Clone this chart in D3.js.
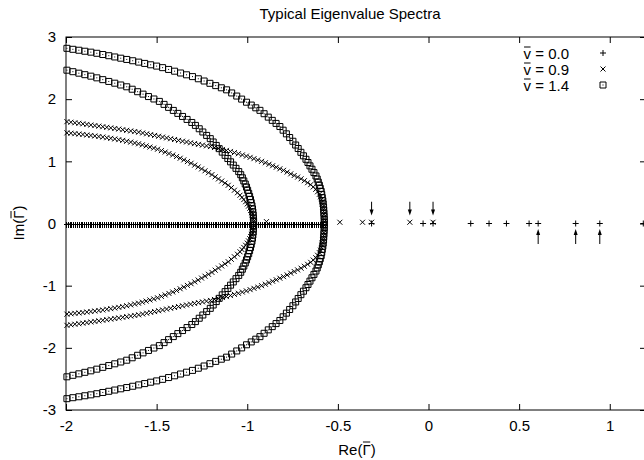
<!DOCTYPE html>
<html>
<head>
<meta charset="utf-8">
<script src="https://cdn.jsdelivr.net/npm/d3@7"></script>
<style>
    body { margin: 0; background: #fff; }
    text { font-family: "Liberation Sans", Arial, sans-serif; fill: #000; }
</style>
</head>
<body>
<svg id="chart" width="644" height="460"></svg>
<script>
(function() {
    'use strict';

    var xTicks = [-2, -1.5, -1, -0.5, 0, 0.5, 1];
    var xTickLabels = ['-2', '-1.5', '-1', '-0.5', '0', '0.5', '1'];
    var yTicks = [-3, -2, -1, 0, 1, 2, 3];
    var yTickLabels = ['-3', '-2', '-1', '0', '1', '2', '3'];
    var legendValues = ['0.0', '0.9', '1.4'];

    // v = 0.0 : continuous real spectrum (Re only)
    var v00Band = [
        -2.00, -1.99, -1.98, -1.97, -1.96, -1.95, -1.94, -1.93, -1.92, -1.91,
        -1.90, -1.89, -1.88, -1.87, -1.86, -1.85, -1.84, -1.83, -1.82, -1.81,
        -1.80, -1.79, -1.78, -1.77, -1.76, -1.75, -1.74, -1.73, -1.72, -1.71,
        -1.70, -1.69, -1.68, -1.67, -1.66, -1.65, -1.64, -1.63, -1.62, -1.61,
        -1.60, -1.59, -1.58, -1.57, -1.56, -1.55, -1.54, -1.53, -1.52, -1.51,
        -1.50, -1.49, -1.48, -1.47, -1.46, -1.45, -1.44, -1.43, -1.42, -1.41,
        -1.40, -1.39, -1.38, -1.37, -1.36, -1.35, -1.34, -1.33, -1.32, -1.31,
        -1.30, -1.29, -1.28, -1.27, -1.26, -1.25, -1.24, -1.23, -1.22, -1.21,
        -1.20, -1.19, -1.18, -1.17, -1.16, -1.15, -1.14, -1.13, -1.12, -1.11,
        -1.10, -1.09, -1.08, -1.07, -1.06, -1.05, -1.04, -1.03, -1.02, -1.01,
        -1.00, -0.99, -0.98, -0.97, -0.96, -0.95, -0.94, -0.93, -0.92, -0.91,
        -0.90, -0.89, -0.88, -0.87, -0.86, -0.85, -0.84, -0.83, -0.82, -0.81,
        -0.80, -0.79, -0.78, -0.77, -0.76, -0.75, -0.74, -0.73, -0.72, -0.71,
        -0.70, -0.69, -0.68, -0.67, -0.66, -0.65, -0.64, -0.63, -0.62, -0.61,
        -0.60, -0.59, -0.58
    ];
    // v = 0.0 : discrete real eigenvalues
    var v00Discrete = [-0.314, -0.03, 0.025, 0.233, 0.334, 0.43, 0.555, 0.605, 0.812, 0.945, 1.185];

    // v = 0.9 : discrete eigenvalues [Re, Im]
    var v09Discrete = [[-0.894, 0.03], [-0.489, 0.02], [-0.364, 0.02], [-0.314, 0.02], [-0.103, 0.02], [0.025, 0.02]];

    // v = 0.9 : upper halves of the two branches [Re, Im] (conjugates drawn too)
    var v09Outer = [
        [-1.995, 1.638], [-1.973, 1.629], [-1.951, 1.620], [-1.929, 1.612], [-1.907, 1.603], [-1.885, 1.594], [-1.863, 1.584], [-1.841, 1.575], [-1.819, 1.566], [-1.797, 1.557],
        [-1.775, 1.547], [-1.753, 1.538], [-1.731, 1.528], [-1.709, 1.519], [-1.687, 1.509], [-1.665, 1.499], [-1.643, 1.489], [-1.621, 1.479], [-1.599, 1.469], [-1.577, 1.456],
        [-1.555, 1.443], [-1.533, 1.430], [-1.511, 1.417], [-1.489, 1.403], [-1.467, 1.390], [-1.445, 1.377], [-1.423, 1.364], [-1.401, 1.351], [-1.379, 1.337], [-1.357, 1.324],
        [-1.335, 1.311], [-1.313, 1.298], [-1.291, 1.285], [-1.269, 1.273], [-1.247, 1.261], [-1.225, 1.249], [-1.203, 1.237], [-1.181, 1.222], [-1.159, 1.206], [-1.137, 1.191],
        [-1.115, 1.176], [-1.093, 1.159], [-1.071, 1.140], [-1.049, 1.122], [-1.027, 1.103], [-1.005, 1.084], [-0.984, 1.064], [-0.963, 1.043], [-0.942, 1.022], [-0.921, 1.000],
        [-0.900, 0.977], [-0.880, 0.953], [-0.860, 0.929], [-0.840, 0.905], [-0.820, 0.880], [-0.800, 0.855], [-0.780, 0.827], [-0.760, 0.799], [-0.741, 0.772], [-0.722, 0.746],
        [-0.703, 0.719], [-0.685, 0.688], [-0.667, 0.656], [-0.650, 0.625], [-0.636, 0.588], [-0.622, 0.550], [-0.612, 0.510], [-0.602, 0.470], [-0.596, 0.430], [-0.590, 0.390],
        [-0.587, 0.350], [-0.585, 0.310], [-0.582, 0.270], [-0.580, 0.230], [-0.579, 0.190], [-0.577, 0.150], [-0.576, 0.110], [-0.575, 0.070], [-0.575, 0.030]
    ];
    var v09Inner = [
        [-1.995, 1.458], [-1.973, 1.452], [-1.951, 1.445], [-1.929, 1.439], [-1.907, 1.432], [-1.885, 1.424], [-1.863, 1.416], [-1.841, 1.408], [-1.819, 1.399], [-1.797, 1.391],
        [-1.775, 1.380], [-1.753, 1.370], [-1.731, 1.360], [-1.709, 1.349], [-1.687, 1.337], [-1.665, 1.323], [-1.643, 1.309], [-1.621, 1.295], [-1.600, 1.282], [-1.579, 1.265],
        [-1.558, 1.248], [-1.537, 1.230], [-1.516, 1.213], [-1.495, 1.195], [-1.474, 1.172], [-1.453, 1.149], [-1.432, 1.125], [-1.411, 1.102], [-1.390, 1.077], [-1.370, 1.050],
        [-1.350, 1.023], [-1.330, 0.996], [-1.310, 0.969], [-1.290, 0.939], [-1.271, 0.909], [-1.252, 0.878], [-1.233, 0.848], [-1.214, 0.817], [-1.195, 0.786], [-1.177, 0.751],
        [-1.159, 0.717], [-1.141, 0.683], [-1.123, 0.649], [-1.105, 0.615], [-1.088, 0.576], [-1.071, 0.535], [-1.054, 0.494], [-1.040, 0.455], [-1.029, 0.420], [-1.019, 0.385],
        [-1.009, 0.350], [-1.000, 0.315], [-0.993, 0.280], [-0.986, 0.245], [-0.981, 0.210], [-0.976, 0.175], [-0.972, 0.140], [-0.969, 0.105], [-0.967, 0.070], [-0.965, 0.035]
    ];

    // v = 1.4 : upper halves of the two branches [Re, Im]
    var v14Outer = [
        [-1.995, 2.818], [-1.962, 2.802], [-1.929, 2.787], [-1.896, 2.771], [-1.863, 2.756], [-1.830, 2.738], [-1.797, 2.718], [-1.764, 2.699], [-1.731, 2.679], [-1.698, 2.659],
        [-1.665, 2.639], [-1.632, 2.618], [-1.599, 2.596], [-1.566, 2.575], [-1.533, 2.553], [-1.500, 2.532], [-1.467, 2.507], [-1.434, 2.478], [-1.401, 2.450], [-1.368, 2.421],
        [-1.335, 2.392], [-1.302, 2.363], [-1.270, 2.328], [-1.238, 2.292], [-1.206, 2.255], [-1.174, 2.218], [-1.143, 2.183], [-1.114, 2.150], [-1.086, 2.100], [-1.058, 2.050],
        [-1.031, 2.001], [-1.004, 1.951], [-0.978, 1.905], [-0.953, 1.861], [-0.930, 1.820], [-0.907, 1.766], [-0.884, 1.711], [-0.862, 1.659], [-0.841, 1.610], [-0.820, 1.560],
        [-0.802, 1.501], [-0.784, 1.442], [-0.766, 1.383], [-0.748, 1.323], [-0.733, 1.262], [-0.719, 1.206], [-0.704, 1.145], [-0.690, 1.089], [-0.676, 1.033], [-0.665, 0.981],
        [-0.654, 0.927], [-0.643, 0.873], [-0.632, 0.819], [-0.621, 0.765], [-0.614, 0.715], [-0.608, 0.665], [-0.602, 0.615], [-0.597, 0.565], [-0.592, 0.515], [-0.589, 0.465],
        [-0.586, 0.415], [-0.583, 0.365], [-0.581, 0.315], [-0.579, 0.265], [-0.578, 0.215], [-0.577, 0.165], [-0.576, 0.115], [-0.575, 0.065], [-0.575, 0.015]
    ];
    var v14Inner = [
        [-1.995, 2.466], [-1.962, 2.442], [-1.929, 2.418], [-1.896, 2.394], [-1.863, 2.370], [-1.830, 2.343], [-1.797, 2.314], [-1.764, 2.285], [-1.731, 2.257], [-1.698, 2.228],
        [-1.665, 2.199], [-1.635, 2.160], [-1.605, 2.120], [-1.575, 2.081], [-1.545, 2.042], [-1.515, 2.003], [-1.485, 1.964], [-1.459, 1.916], [-1.434, 1.868], [-1.408, 1.819],
        [-1.383, 1.771], [-1.357, 1.722], [-1.332, 1.674], [-1.306, 1.625], [-1.286, 1.578], [-1.265, 1.524], [-1.245, 1.472], [-1.224, 1.417], [-1.204, 1.365], [-1.188, 1.311],
        [-1.171, 1.256], [-1.155, 1.204], [-1.138, 1.148], [-1.122, 1.096], [-1.107, 1.045], [-1.092, 0.992], [-1.077, 0.940], [-1.062, 0.887], [-1.047, 0.835], [-1.036, 0.785],
        [-1.027, 0.735], [-1.019, 0.685], [-1.011, 0.635], [-1.004, 0.585], [-0.998, 0.535], [-0.992, 0.485], [-0.987, 0.435], [-0.982, 0.385], [-0.978, 0.335], [-0.974, 0.285],
        [-0.971, 0.235], [-0.969, 0.185], [-0.967, 0.135], [-0.966, 0.085], [-0.965, 0.035]
    ];

    // arrows marking eigenvalues: Re position, Im start, Im tip
    var arrowsDown = [-0.314, -0.103, 0.025];
    var arrowsDownSpan = [0.35, 0.13];
    var arrowsUp = [0.605, 0.812, 0.945];
    var arrowsUpSpan = [-0.33, -0.09];

    var svg = d3.select('#chart');
    var x = d3.scaleLinear().domain([-2, 1.2]).range([66, 646]);
    var y = d3.scaleLinear().domain([-3, 3]).range([410, 37]);
    var fontSize = 15;

    var symbols = {
        plus: 'M-3,0H3M0,-3V3',
        cross: 'M-2.5,-2.5L2.5,2.5M-2.5,2.5L2.5,-2.5',
        box: 'M-3,-3H3V3H-3ZM-0.5,0H0.5'
    };

    // eigenvalues come in complex conjugate pairs
    var withConjugates = function(pts) {
        return pts.concat(pts.map(function(p) { return [p[0], -p[1]]; }));
    };

    var drawPoints = function(cls, pts, symbol, crisp) {
        svg.append('g')
            .attr('class', cls)
            .attr('shape-rendering', crisp ? 'crispEdges' : null)
            .selectAll('path')
            .data(pts)
            .enter()
            .append('path')
            .attr('transform', function(d) {
                var px = x(d[0]), py = y(d[1]);
                if (crisp) { px = Math.round(px) + 0.5; py = Math.round(py) + 0.5; }
                return 'translate(' + px + ',' + py + ')';
            })
            .attr('d', symbols[symbol])
            .attr('fill', 'none')
            .attr('stroke', '#000')
            .attr('stroke-width', 1);
    };

    // axes with inward ticks on all four sides
    var tick = 6;
    var xAxis = d3.axisBottom(x).tickValues(xTicks).tickSize(-tick).tickPadding(10)
        .tickFormat(function(d, i) { return xTickLabels[i]; });
    var yAxis = d3.axisLeft(y).tickValues(yTicks).tickSize(-tick).tickPadding(10)
        .tickFormat(function(d, i) { return yTickLabels[i]; });

    svg.append('g').attr('transform', 'translate(0,410)').call(xAxis);
    svg.append('g').attr('transform', 'translate(0,37)')
        .call(d3.axisTop(x).tickValues(xTicks).tickSize(-tick).tickFormat(''));
    svg.append('g').attr('transform', 'translate(66,0)').call(yAxis);
    svg.append('g').attr('transform', 'translate(646,0)')
        .call(d3.axisRight(y).tickValues(yTicks).tickSize(-tick).tickFormat(''));

    svg.selectAll('.domain').remove();
    svg.selectAll('.tick line').attr('stroke', '#000');
    svg.selectAll('.tick text').attr('font-size', fontSize).attr('fill', '#000')
        .style('font-family', '"Liberation Sans", Arial, sans-serif');

    svg.append('rect')
        .attr('x', 66).attr('y', 37)
        .attr('width', 580).attr('height', 373)
        .attr('fill', 'none').attr('stroke', '#000');

    // data
    drawPoints('v00-band', v00Band.map(function(d) { return [d, 0]; }), 'plus', true);
    drawPoints('v00-disc', v00Discrete.map(function(d) { return [d, 0]; }), 'plus');
    drawPoints('v09-outer', withConjugates(v09Outer), 'cross');
    drawPoints('v09-inner', withConjugates(v09Inner), 'cross');
    drawPoints('v09-disc', v09Discrete, 'cross');
    drawPoints('v14-outer', withConjugates(v14Outer), 'box');
    drawPoints('v14-inner', withConjugates(v14Inner), 'box');

    // arrows
    var drawArrows = function(list, span) {
        var g = svg.append('g').attr('class', 'arrows');
        list.forEach(function(re) {
            var px = x(re), y0 = y(span[0]), y1 = y(span[1]);
            var dir = y1 > y0 ? 1 : -1;
            g.append('line')
                .attr('x1', px).attr('y1', y0)
                .attr('x2', px).attr('y2', y1 - dir * 3)
                .attr('stroke', '#000');
            g.append('path')
                .attr('d', 'M' + px + ',' + y1 + 'L' + (px - 2) + ',' + (y1 - dir * 6) +
                    'L' + (px + 2) + ',' + (y1 - dir * 6) + 'Z')
                .attr('fill', '#000');
        });
    };
    drawArrows(arrowsDown, arrowsDownSpan);
    drawArrows(arrowsUp, arrowsUpSpan);

    // text where one character carries a bar; the bar is drawn as a line over that glyph
    var barText = function(transform, anchor, parts, barIdx, barRise) {
        var g = svg.append('g').attr('transform', transform);
        var t = g.append('text')
            .attr('text-anchor', anchor)
            .attr('font-size', fontSize)
            .text(parts.join(''));
        var box = t.node().getExtentOfChar(barIdx);
        g.append('line')
            .attr('x1', box.x + 0.5).attr('x2', box.x + box.width - 0.5)
            .attr('y1', -barRise).attr('y2', -barRise)
            .attr('stroke', '#000').attr('stroke-width', 1);
        return g;
    };

    svg.append('text')
        .attr('x', 350).attr('y', 19)
        .attr('text-anchor', 'middle')
        .attr('font-size', fontSize)
        .text('Typical Eigenvalue Spectra');

    barText('translate(357,455)', 'middle', ['Re(', '\u0393', ')'], 3, 13);
    barText('translate(24,223) rotate(-90)', 'middle', ['Im(', '\u0393', ')'], 3, 13);

    // legend
    var legendSymbols = ['plus', 'cross', 'box'];
    legendValues.forEach(function(v, i) {
        var ly = 53 + i * 16;
        barText('translate(569,' + (ly + 5.5) + ')', 'end', ['v', ' = ' + v], 0, 11.5);
        svg.append('path')
            .attr('transform', 'translate(603,' + ly + ')')
            .attr('d', symbols[legendSymbols[i]])
            .attr('fill', 'none')
            .attr('stroke', '#000');
    });
})();
</script>
</body>
</html>
